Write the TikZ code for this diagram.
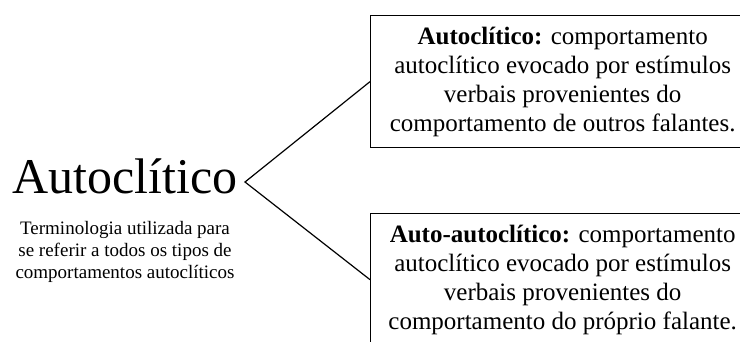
\documentclass[tikz,border=0pt]{standalone}
\usepackage{fontspec}
\setmainfont{Liberation Serif}
\usetikzlibrary{positioning}

\begin{document}
\begin{tikzpicture}[x=1pt,y=-1pt,node distance=27pt,
    box/.style={draw,line width=1.3pt,minimum width=384pt,minimum height=132pt,
      align=center,inner sep=0pt,font=\fontsize{25}{29}\selectfont},
    link/.style={line width=1.2pt}] 
   \clip (0,0) rectangle (740,341);
   \node[anchor=base,inner sep=0pt,font=\fontsize{50}{52}\selectfont] (title) at (125,193) {Autoclítico};
   \node[align=center,inner sep=0pt,font=\fontsize{19}{22}\selectfont] (desc) [below=of title]
     {Terminologia utilizada para\\se referir a todos os tipos de\\comportamentos autoclíticos};
   \node[box,anchor=north west] (box1) at (370,15)
     {\textbf{Autoclítico:} comportamento\\autoclítico evocado por estímulos\\verbais provenientes do\\comportamento de outros falantes.};
   \node[box,anchor=north west] (box2) at (370,213)
     {\textbf{Auto-autoclítico:} comportamento\\autoclítico evocado por estímulos\\verbais provenientes do\\comportamento do próprio falante.};
   \coordinate (split) at (245,182);
   \draw[link] (box1.west) -- (split) -- (box2.west);
   %\draw (title.east) -- (split);
\end{tikzpicture}
\end{document}
